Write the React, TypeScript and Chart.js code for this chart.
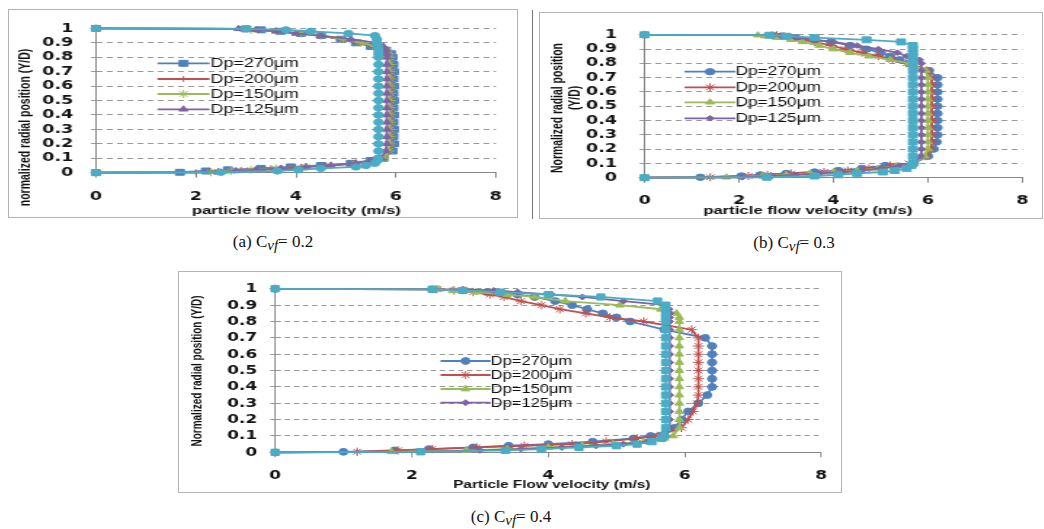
import React, { useEffect, useRef } from 'react';
import { Chart, registerables } from 'chart.js';
import { drawPoint } from 'chart.js/helpers';

Chart.register(...registerables);

// ---------- data ----------
const Y_POS = [
  0, 0.003, 0.012, 0.02, 0.03, 0.04, 0.05, 0.065, 0.085, 0.1,
  0.15, 0.2, 0.25, 0.3, 0.35, 0.4, 0.45, 0.5, 0.55, 0.6,
  0.65, 0.7, 0.75, 0.8, 0.825, 0.85, 0.875, 0.9, 0.925, 0.95,
  0.965, 0.98, 0.99, 0.997, 1,
];
const X_TICKS = ['0', '2', '4', '6', '8'];
const Y_TICKS = ['0', '0.1', '0.2', '0.3', '0.4', '0.5', '0.6', '0.7', '0.8', '0.9', '1'];
const LEGEND_LABELS = ['Dp=270μm', 'Dp=200μm', 'Dp=150μm', 'Dp=125μm'];
const COLORS = ['#4F81BD', '#C0504D', '#9BBB59', '#8064A2', '#4BACC6'];

// (a) Cvf = 0.2
const A_270 = [
  0, 1.68, 2.2, 2.64, 3.3, 3.9, 4.5, 5.1, 5.5, 5.75,
  5.93, 5.96, 5.95, 5.96, 5.95, 5.96, 5.95, 5.96, 5.95, 5.96,
  5.95, 5.96, 5.95, 5.93, 5.9, 5.8, 5.5, 5.2, 4.9, 4.5,
  4.1, 3.7, 3.3, 3.0, 0,
];
const A_200 = [
  0, 2.0, 2.45, 2.9, 3.5, 4.1, 4.6, 5.15, 5.55, 5.75,
  5.88, 5.9, 5.91, 5.9, 5.9, 5.91, 5.9, 5.9, 5.91, 5.9,
  5.9, 5.91, 5.9, 5.88, 5.85, 5.78, 5.55, 5.25, 4.9, 4.45,
  4.05, 3.6, 3.25, 3.0, 0,
];
const A_150 = [
  0, 2.3, 2.7, 3.1, 3.6, 4.2, 4.7, 5.2, 5.55, 5.75,
  5.86, 5.88, 5.88, 5.88, 5.88, 5.88, 5.88, 5.88, 5.88, 5.88,
  5.88, 5.88, 5.88, 5.87, 5.85, 5.82, 5.6, 5.3, 4.95, 4.5,
  4.1, 3.6, 3.1, 2.95, 0,
];
const A_125 = [
  0, 2.45, 2.8, 3.2, 3.7, 4.2, 4.7, 5.2, 5.5, 5.7,
  5.8, 5.82, 5.82, 5.82, 5.82, 5.82, 5.82, 5.82, 5.82, 5.82,
  5.82, 5.82, 5.82, 5.82, 5.81, 5.8, 5.75, 5.6, 5.1, 4.5,
  4.0, 3.6, 3.2, 2.85, 0,
];
const A_REF = [
  0, 2.5, 3.63, 4.05, 4.5, 5.2, 5.4, 5.58, 5.63, 5.64,
  5.65, 5.65, 5.65, 5.65, 5.65, 5.65, 5.65, 5.65, 5.65, 5.65,
  5.65, 5.65, 5.65, 5.65, 5.65, 5.65, 5.64, 5.62, 5.62, 5.58,
  5.05, 4.3, 3.8, 3.0, 0,
];

// (b) Cvf = 0.3
const B_270 = [
  0, 1.18, 2.05, 2.45, 3.0, 3.6, 4.1, 4.6, 5.1, 5.7,
  6.0, 6.12, 6.18, 6.2, 6.2, 6.2, 6.2, 6.2, 6.2, 6.2,
  6.2, 6.2, 6.02, 5.6, 5.4, 5.2, 5.0, 4.7, 4.35, 3.95,
  3.6, 3.2, 2.9, 2.7, 0,
];
const B_200 = [
  0, 1.39, 2.2, 2.6, 3.1, 3.8, 4.3, 4.75, 5.2, 5.6,
  5.95, 6.06, 6.08, 6.08, 6.08, 6.08, 6.08, 6.08, 6.08, 6.08,
  6.08, 6.08, 5.97, 5.55, 5.25, 4.95, 4.6, 4.25, 3.95, 3.6,
  3.35, 3.1, 2.95, 2.8, 0,
];
const B_150 = [
  0, 1.73, 2.5, 3.0, 3.5, 4.0, 4.5, 4.95, 5.35, 5.7,
  5.93, 6.0, 6.0, 6.0, 6.0, 6.0, 6.0, 6.0, 6.0, 6.0,
  6.0, 6.0, 5.95, 5.6, 5.2, 4.75, 4.35, 4.0, 3.7, 3.35,
  3.1, 2.8, 2.55, 2.4, 0,
];
const B_125 = [
  0, 2.07, 2.7, 3.2, 3.7, 4.2, 4.6, 5.0, 5.4, 5.7,
  5.84, 5.86, 5.86, 5.86, 5.86, 5.86, 5.86, 5.86, 5.86, 5.86,
  5.86, 5.86, 5.86, 5.86, 5.82, 5.55, 5.35, 4.95, 4.5, 4.0,
  3.6, 3.2, 2.9, 2.7, 0,
];
const B_REF = [
  0, 2.59, 3.6, 4.1, 4.5, 5.05, 5.3, 5.55, 5.65, 5.68,
  5.68, 5.68, 5.68, 5.68, 5.68, 5.68, 5.68, 5.68, 5.68, 5.68,
  5.68, 5.68, 5.68, 5.68, 5.68, 5.68, 5.68, 5.68, 5.68, 5.43,
  4.7, 3.6, 3.0, 2.65, 0,
];

// (c) Cvf = 0.4
const C_270 = [
  0, 1.0, 1.75, 2.25, 2.9, 3.42, 4.0, 4.65, 5.25, 5.5,
  5.85, 5.95, 6.05, 6.2, 6.33, 6.4, 6.4, 6.4, 6.4, 6.4,
  6.4, 6.3, 5.7, 5.2, 5.0, 4.8, 4.57, 4.35, 4.1, 3.8,
  3.55, 3.1, 2.75, 2.3, 0,
];
const C_200 = [
  0, 1.2, 1.8, 2.3, 2.95, 3.65, 4.35, 4.85, 5.3, 5.6,
  5.95, 6.05, 6.12, 6.18, 6.2, 6.2, 6.2, 6.2, 6.2, 6.2,
  6.2, 6.2, 6.1, 5.4, 4.9, 4.55, 4.17, 3.9, 3.6, 3.35,
  3.15, 2.9, 2.62, 2.37, 0,
];
const C_150 = [
  0, 1.7, 2.8, 3.4, 4.0, 4.5, 4.95, 5.4, 5.7, 5.83,
  5.92, 5.92, 5.92, 5.92, 5.92, 5.92, 5.92, 5.92, 5.92, 5.92,
  5.92, 5.92, 5.92, 5.92, 5.92, 5.88, 5.65, 5.05, 4.25, 3.8,
  3.4, 2.95, 2.6, 2.4, 0,
];
const C_125 = [
  0, 2.1, 3.0, 3.6, 4.2, 4.7, 5.1, 5.45, 5.65, 5.72,
  5.78, 5.78, 5.78, 5.78, 5.78, 5.78, 5.78, 5.78, 5.78, 5.78,
  5.78, 5.78, 5.78, 5.78, 5.78, 5.78, 5.77, 5.72, 5.1, 4.5,
  4.05, 3.55, 3.2, 2.75, 0,
];
const C_REF = [
  0, 2.13, 3.37, 3.9, 4.45, 5.0, 5.3, 5.52, 5.66, 5.7,
  5.72, 5.72, 5.72, 5.72, 5.72, 5.72, 5.72, 5.72, 5.72, 5.72,
  5.72, 5.72, 5.72, 5.72, 5.72, 5.72, 5.72, 5.72, 5.6, 4.77,
  4.0, 3.3, 2.75, 2.3, 0,
];

// ---------- layout / style ----------
type Layout = {
  left: number; top: number; W: number; H: number; s: number;
  plotLeft: number; plotRight: number; plotTop: number; plotBottom: number;
  yTickRight: number; xTickPad: number; tickSize: number;
  xTitle: string; xTitleX: number; xTitleY: number; xTitleSize: number;
  yTitle: string[]; yTitleX: number[]; yTitleY: number[]; yTitleSize: number;
  legendX: number; legendLen: number; legendTextX: number; legendRows: number[]; legendSize: number;
  styles: string[]; radii: number[];
};

const LAYOUT_A: Layout = {
  left: 8, top: 9, W: 510, H: 209, s: 1.45,
  plotLeft: 87.7, plotRight: 489.7, plotTop: 9.3, plotBottom: 163.7,
  yTickRight: 65, xTickPad: 12, tickSize: 12,
  xTitle: 'particle flow velocity (m/s)', xTitleX: 287.5, xTitleY: 201.7, xTitleSize: 11.5,
  yTitle: ['normalized radial position (Y/D)'], yTitleX: [18], yTitleY: [118.5], yTitleSize: 10.5,
  legendX: 149, legendLen: 52, legendTextX: 202, legendRows: [54.3, 70, 85, 100.3], legendSize: 12.3,
  styles: ['rect', 'cross', 'star', 'triangle', 'circle'], radii: [4.2, 3, 4, 3.5, 3.2],
};
const LAYOUT_B: Layout = {
  left: 539, top: 12, W: 504, H: 207, s: 1.45,
  plotLeft: 105.3, plotRight: 493.3, plotTop: 12, plotBottom: 165.7,
  yTickRight: 77.7, xTickPad: 11, tickSize: 12,
  xTitle: 'particle flow velocity (m/s)', xTitleX: 268, xTitleY: 198.7, xTitleSize: 11.5,
  yTitle: ['Normalized radial position', '(Y/D)'], yTitleX: [19, 36], yTitleY: [96, 86], yTitleSize: 10.4,
  legendX: 145, legendLen: 51, legendTextX: 196, legendRows: [59.7, 75.3, 90.3, 106.3], legendSize: 11.9,
  styles: ['circle', 'star', 'triangle', 'rectRot', 'rect'], radii: [3.2, 4, 3.5, 2.8, 4.2],
};
const LAYOUT_C: Layout = {
  left: 178, top: 271, W: 664, H: 222, s: 1.3,
  plotLeft: 97, plotRight: 642, plotTop: 9.7, plotBottom: 181.3,
  yTickRight: 79, xTickPad: 11, tickSize: 13,
  xTitle: 'Particle Flow velocity (m/s)', xTitleX: 373, xTitleY: 214, xTitleSize: 11.8,
  yTitle: ['Normalized radial position (Y/D)'], yTitleX: [20], yTitleY: [100], yTitleSize: 10,
  legendX: 262, legendLen: 50, legendTextX: 312, legendRows: [90, 104, 118, 131.7], legendSize: 12.7,
  styles: ['circle', 'star', 'triangle', 'rectRot', 'rect'], radii: [3.4, 4.2, 3.8, 3, 4.4],
};

function ProfileChart({ L, series }: { L: Layout; series: number[][] }) {
  const ref = useRef<HTMLCanvasElement | null>(null);
  useEffect(() => {
    if (!ref.current) return;
    const s = L.s;
    const textPlugin = {
      id: 'texts',
      afterDraw(chart: any) {
        const ctx = chart.ctx as CanvasRenderingContext2D;
        ctx.save();
        ctx.setLineDash([]);
        LEGEND_LABELS.forEach((lab, i) => {
          const y = L.legendRows[i];
          const x0 = L.legendX / s;
          const x1 = (L.legendX + L.legendLen) / s;
          ctx.strokeStyle = COLORS[i];
          ctx.fillStyle = COLORS[i];
          ctx.lineWidth = 1.8;
          ctx.beginPath();
          ctx.moveTo(x0, y);
          ctx.lineTo(x1, y);
          ctx.stroke();
          ctx.lineWidth = 1;
          drawPoint(ctx, { pointStyle: L.styles[i], radius: L.radii[i], borderWidth: 1, rotation: 0 } as any, (x0 + x1) / 2, y);
          ctx.fillStyle = '#111';
          ctx.textAlign = 'left';
          ctx.textBaseline = 'middle';
          ctx.font = `${L.legendSize}px "Liberation Sans", Arial, sans-serif`;
          ctx.fillText(lab, L.legendTextX / s, y + 0.5);
        });
        ctx.fillStyle = '#111';
        ctx.textAlign = 'center';
        ctx.textBaseline = 'middle';
        ctx.font = `bold ${L.xTitleSize}px "Liberation Sans", Arial, sans-serif`;
        ctx.fillText(L.xTitle, L.xTitleX / s, L.xTitleY);
        ctx.font = `bold ${L.yTitleSize}px "Liberation Sans", Arial, sans-serif`;
        L.yTitle.forEach((t, i) => {
          ctx.save();
          ctx.translate(L.yTitleX[i] / s, L.yTitleY[i]);
          ctx.rotate(-Math.PI / 2);
          ctx.fillText(t, 0, 0);
          ctx.restore();
        });
        ctx.restore();
      },
    };
    const tickFont = { family: '"DejaVu Sans", sans-serif', weight: 'bold' as const, size: L.tickSize };
    const yTickLen = 5 / s;
    const chart = new Chart(ref.current, {
      type: 'scatter',
      data: {
        datasets: series.map((xs, i) => ({
          label: LEGEND_LABELS[i] ?? '',
          data: xs.map((x, j) => ({ x, y: Y_POS[j] })),
          showLine: true,
          borderColor: COLORS[i],
          backgroundColor: COLORS[i],
          borderWidth: 1.8,
          pointStyle: L.styles[i] as any,
          pointRadius: L.radii[i],
          pointBorderWidth: 1,
          pointBorderColor: COLORS[i],
          pointBackgroundColor: COLORS[i],
          order: 5 - i,
          clip: false as any,
          tension: 0,
        })),
      },
      options: {
        animation: false,
        responsive: true,
        maintainAspectRatio: false,
        events: [],
        layout: { padding: { left: 0, top: L.plotTop, right: (L.W - L.plotRight) / s, bottom: 0 } },
        plugins: { legend: { display: false }, tooltip: { enabled: false } },
        scales: {
          x: {
            type: 'linear', min: 0, max: 8,
            ticks: {
              stepSize: 2, padding: L.xTickPad, font: tickFont, color: '#111', autoSkip: false,
              callback: (_v: any, i: number) => X_TICKS[i],
            },
            grid: { display: true, drawOnChartArea: false, drawTicks: true, tickLength: 5, color: '#888' },
            border: { display: true, color: '#888', width: 1 },
            afterFit: (sc: any) => { sc.height = L.H - L.plotBottom; },
          },
          y: {
            type: 'linear', min: 0, max: 1,
            ticks: {
              stepSize: 0.1, padding: (L.plotLeft - L.yTickRight) / s - yTickLen, font: tickFont, color: '#111', autoSkip: false,
              callback: (_v: any, i: number) => Y_TICKS[i],
            },
            grid: { display: true, drawOnChartArea: true, drawTicks: true, tickLength: yTickLen, color: '#9a9a9a', lineWidth: 1 },
            border: { display: true, color: '#888', width: 1, dash: [4, 3] },
            afterFit: (sc: any) => { sc.width = L.plotLeft / s; },
          },
        },
      } as any,
      plugins: [textPlugin],
    });
    return () => chart.destroy();
  }, [L, series]);

  return (
    <div style={{ position: 'absolute', left: L.left, top: L.top, width: L.W, height: L.H, overflow: 'hidden', background: '#fff' }}>
      <div style={{ position: 'absolute', left: 0, top: 0, width: L.W / L.s, height: L.H, transform: `scaleX(${L.s})`, transformOrigin: '0 0' }}>
        <canvas ref={ref} />
      </div>
      <div style={{ position: 'absolute', left: 0, top: 0, width: L.W, height: L.H, boxSizing: 'border-box', border: '1px solid #b4b4b4', pointerEvents: 'none' }} />
    </div>
  );
}

function Caption({ letter, value, cx, cy }: { letter: string; value: string; cx: number; cy: number }) {
  return (
    <div style={{
      position: 'absolute', left: cx - 100, top: cy - 11, width: 200, height: 22, textAlign: 'center',
      fontFamily: '"Liberation Serif", "DejaVu Serif", serif', fontSize: 17, lineHeight: '22px', color: '#111', whiteSpace: 'nowrap',
    }}>
      ({letter}) C<span style={{ fontStyle: 'italic', fontSize: 15, position: 'relative', top: 3 }}>vf</span>= {value}
    </div>
  );
}

const SERIES_A = [A_270, A_200, A_150, A_125, A_REF];
const SERIES_B = [B_270, B_200, B_150, B_125, B_REF];
const SERIES_C = [C_270, C_200, C_150, C_125, C_REF];

export default function App() {
  return (
    <div style={{ position: 'fixed', left: 0, top: 0, width: 1044, height: 529, background: '#fff', overflow: 'hidden' }}>
      <ProfileChart L={LAYOUT_A} series={SERIES_A} />
      <div style={{ position: 'absolute', left: 532, top: 10, width: 1, height: 209, background: '#777' }} />
      <ProfileChart L={LAYOUT_B} series={SERIES_B} />
      <ProfileChart L={LAYOUT_C} series={SERIES_C} />
      <Caption letter="a" value="0.2" cx={273} cy={242} />
      <Caption letter="b" value="0.3" cx={794} cy={243} />
      <Caption letter="c" value="0.4" cx={511} cy={517} />
    </div>
  );
}
